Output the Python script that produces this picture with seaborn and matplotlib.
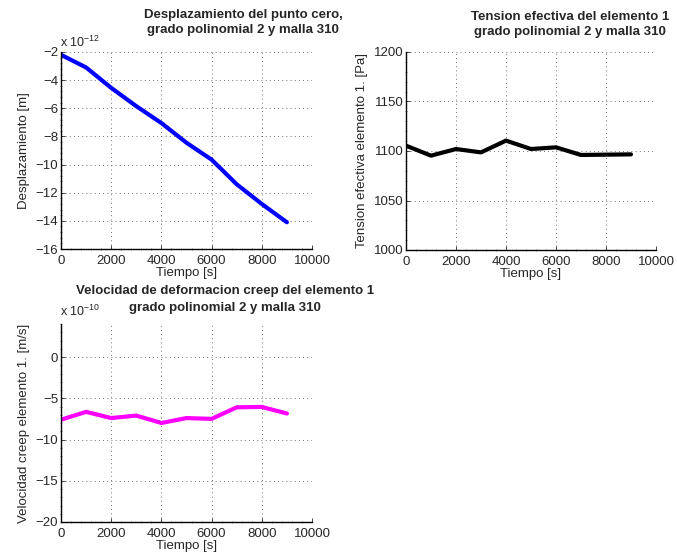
import numpy as np
import pandas as pd
import matplotlib
matplotlib.use('Agg')
import matplotlib.pyplot as plt
from matplotlib.ticker import AutoMinorLocator
import seaborn as sns

# data (tiempo in s)
tiempo = [0, 1000, 2000, 3000, 4000, 5000, 6000, 7000, 8000, 9000]
desplazamiento_e12 = [-2.2, -3.1, -4.55, -5.85, -7.05, -8.45, -9.65, -11.4, -12.8, -14.1]
tension = [1105.4, 1095.3, 1102.0, 1098.6, 1110.5, 1102.0, 1103.7, 1096.0, 1096.3, 1096.6]
velocidad_e10 = [-7.6, -6.65, -7.4, -7.1, -8.0, -7.4, -7.5, -6.1, -6.05, -6.85]

sns.set_style('ticks')
plt.rcParams['font.family'] = ['Liberation Sans', 'DejaVu Sans']
plt.rcParams['mathtext.fontset'] = 'custom'
plt.rcParams['mathtext.rm'] = 'Liberation Sans'

fig = plt.figure(figsize=(6.77, 5.6), dpi=100)
W, H = 677, 560
FS = 9.5


def make_ax(left, top, right, bottom):
    return fig.add_axes([left / W, 1 - bottom / H, (right - left) / W, (bottom - top) / H])


def style(ax, ylabel, ylim, yticks):
    ax.set_xlim(0, 10000)
    ax.set_ylim(*ylim)
    ax.set_xticks([0, 2000, 4000, 6000, 8000, 10000])
    ax.set_yticks(yticks)
    ax.xaxis.set_minor_locator(AutoMinorLocator(5))
    ax.yaxis.set_minor_locator(AutoMinorLocator(5))
    ax.tick_params(which='major', direction='in', length=3, width=0.6, labelsize=FS, pad=2)
    ax.tick_params(axis='x', which='major', pad=4)
    ax.tick_params(which='minor', direction='inout', length=2, width=0.4)
    ax.grid(True, which='major', linestyle=(0, (1, 4)), color='#444444', linewidth=0.6)
    for s in ['top', 'right']:
        ax.spines[s].set_visible(False)
    for s in ['left', 'bottom']:
        ax.spines[s].set_linewidth(1.0)
        ax.spines[s].set_color('black')
    ax.set_xlabel('Tiempo [s]', fontsize=FS, labelpad=0)
    ax.set_ylabel(ylabel, fontsize=FS, labelpad=4)


def title(x, y1, y2, line1, line2):
    fig.text(x / W, 1 - y1 / H, line1, ha='center', va='center', fontsize=FS, fontweight='bold')
    fig.text(x / W, 1 - y2 / H, line2, ha='center', va='center', fontsize=FS, fontweight='bold')


df = pd.DataFrame({'tiempo': tiempo, 'desp': desplazamiento_e12,
                   'tension': tension, 'vel': velocidad_e10})

ax1 = make_ax(61, 52, 312, 249)
sns.lineplot(data=df, x='tiempo', y='desp', ax=ax1, color='#0000ff', linewidth=3)
style(ax1, 'Desplazamiento [m]', (-16, -2), list(range(-16, -1, 2)))

ax2 = make_ax(406, 52, 656, 250)
sns.lineplot(data=df, x='tiempo', y='tension', ax=ax2, color='black', linewidth=3)
style(ax2, 'Tension efectiva elemento 1. [Pa]', (1000, 1200), [1000, 1050, 1100, 1150, 1200])

ax3 = make_ax(61, 324, 312, 522)
sns.lineplot(data=df, x='tiempo', y='vel', ax=ax3, color='#ff00ff', linewidth=3)
style(ax3, 'Velocidad creep elemento 1. [m/s]', (-20, 4), [-20, -15, -10, -5, 0])

title(243, 15, 30, 'Desplazamiento del punto cero,', 'grado polinomial 2 y malla 310')
title(570, 17, 32, 'Tension efectiva del elemento 1', 'grado polinomial 2 y malla 310')
title(225, 291, 308, 'Velocidad de deformacion creep del elemento 1', 'grado polinomial 2 y malla 310')

fig.text(60 / W, 1 - 42 / H, r'x 10$^{-12}$', ha='left', va='center', fontsize=9)
fig.text(60 / W, 1 - 311 / H, r'x 10$^{-10}$', ha='left', va='center', fontsize=9)

fig.savefig('out.png', dpi=100)
